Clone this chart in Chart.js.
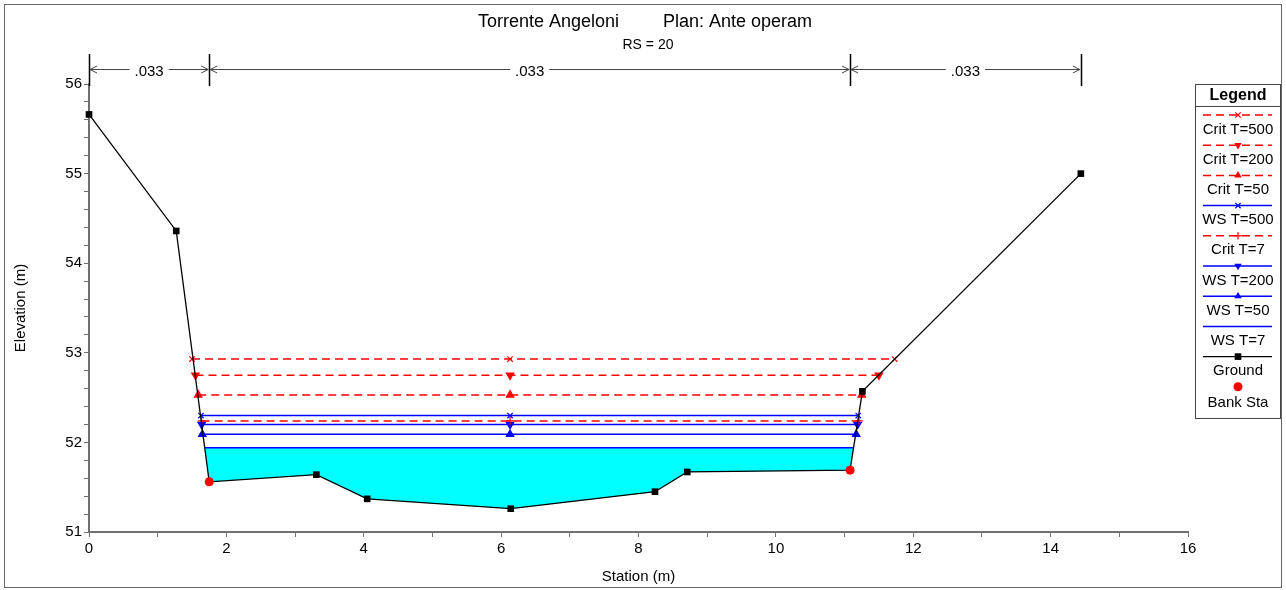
<!DOCTYPE html>
<html><head><meta charset="utf-8">
<script src="https://cdn.jsdelivr.net/npm/chart.js@4.4.1/dist/chart.umd.min.js"></script>
<style>html,body{margin:0;padding:0;background:#fff;}#wrap{width:1286px;height:590px;position:relative;}</style>
</head><body><div id="wrap"><canvas id="c"></canvas></div>
<script>
// ---- data ----
const groundX = [0, 1.27, 1.75, 3.31, 4.05, 6.14, 8.24, 8.71, 11.08, 11.26, 14.44];
const groundY = [55.66, 54.36, 51.56, 51.64, 51.37, 51.26, 51.45, 51.67, 51.69, 52.57, 55.00];
const bankX = [1.75, 11.08];
const bankY = [51.56, 51.69];
const profileNames = ['Crit T=500', 'Crit T=200', 'Crit T=50', 'WS T=500', 'Crit T=7', 'WS T=200', 'WS T=50', 'WS T=7'];
const profileElev = [52.93, 52.75, 52.53, 52.30, 52.24, 52.20, 52.09, 51.94];
const profileLeftX = [1.50, 1.55, 1.59, 1.63, 1.64, 1.64, 1.65, 1.69];
const profileMidX = [6.13, 6.13, 6.13, 6.13, 6.13, 6.13, 6.13, 6.13];
const profileRightX = [11.73, 11.50, 11.25, 11.20, 11.21, 11.19, 11.17, 11.13];
const nBreaksX = [0, 1.75, 11.08, 14.44];
const nValues = ['.033', '.033', '.033'];
const titleMain = ['Torrente Angeloni', 'Plan: Ante operam'];
const titleSub = 'RS = 20';
const legendLabels = ['Crit T=500', 'Crit T=200', 'Crit T=50', 'WS T=500', 'Crit T=7', 'WS T=200', 'WS T=50', 'WS T=7', 'Ground', 'Bank Sta'];

// ---- styles ----
const RED = 'rgb(255,0,0)', BLUE = 'rgb(0,0,255)';
const profileStyles = [
  {color: RED, dash: [8, 5], marker: 'crossRot', rot: 0},
  {color: RED, dash: [8, 5], marker: 'triangle', rot: 180},
  {color: RED, dash: [8, 5], marker: 'triangle', rot: 0},
  {color: BLUE, dash: [], marker: 'crossRot', rot: 0},
  {color: RED, dash: [8, 5], marker: 'cross', rot: 0},
  {color: BLUE, dash: [], marker: 'triangle', rot: 180},
  {color: BLUE, dash: [], marker: 'triangle', rot: 0},
  {color: BLUE, dash: [], marker: null, rot: 0}
];
const FONT = '"Liberation Sans", Arial, Helvetica, sans-serif';

const datasets = [];
// bank stations
datasets.push({label: 'Bank Sta', data: bankX.map((x, i) => ({x, y: bankY[i]})), showLine: false, clip: false,
  pointStyle: 'circle', pointRadius: 4.5, backgroundColor: RED, borderColor: RED, borderWidth: 0, order: 0});
// ground
datasets.push({label: 'Ground', data: groundX.map((x, i) => ({x, y: groundY[i]})), showLine: true, clip: false,
  borderColor: '#000', borderWidth: 1.3, pointStyle: 'rect', pointRadius: 4.7, backgroundColor: '#000',
  pointBorderWidth: 0, order: 1, fill: false});
// water surface profiles
profileNames.forEach((name, i) => {
  const st = profileStyles[i];
  datasets.push({label: name,
    data: [{x: profileLeftX[i], y: profileElev[i]}, {x: profileMidX[i], y: profileElev[i]}, {x: profileRightX[i], y: profileElev[i]}],
    showLine: true, clip: false, borderColor: st.color, borderWidth: 1.5, borderDash: st.dash, fill: false,
    pointStyle: st.marker || 'circle', pointRadius: st.marker ? (st.marker === 'triangle' ? 4.3 : 3.8) : 0,
    pointRotation: st.rot, backgroundColor: st.color, pointBorderColor: st.color, pointBorderWidth: 1.2,
    order: 2 + i});
});
// water fill (lowest profile down to ground)
const wIdx = profileNames.length - 1;
const fillPts = [{x: profileLeftX[wIdx], y: profileElev[wIdx]}, {x: profileRightX[wIdx], y: profileElev[wIdx]}];
for (let k = groundX.length - 1; k >= 0; k--) {
  if (groundX[k] >= bankX[0] && groundX[k] <= bankX[1]) fillPts.push({x: groundX[k], y: groundY[k]});
}
datasets.push({label: 'fill', data: fillPts, showLine: true, borderWidth: 0, borderColor: 'rgba(0,0,0,0)',
  pointRadius: 0, fill: 'shape', backgroundColor: 'rgb(0,255,255)', order: 30});

function drawMarker(ctx, style, x, y, r, rot, color) {
  ctx.save();
  ctx.translate(x, y);
  ctx.rotate((rot || 0) * Math.PI / 180);
  ctx.fillStyle = color; ctx.strokeStyle = color; ctx.lineWidth = 1.2; ctx.setLineDash([]);
  ctx.beginPath();
  if (style === 'circle') { ctx.arc(0, 0, r, 0, Math.PI * 2); ctx.fill(); }
  else if (style === 'rect') { const s = r * Math.SQRT1_2; ctx.fillRect(-s, -s, 2 * s, 2 * s); }
  else if (style === 'triangle') {
    ctx.moveTo(0, -r); ctx.lineTo(r * 0.866, r * 0.5); ctx.lineTo(-r * 0.866, r * 0.5); ctx.closePath(); ctx.fill();
  } else if (style === 'crossRot') {
    const s = r * 0.707; ctx.moveTo(-s, -s); ctx.lineTo(s, s); ctx.moveTo(s, -s); ctx.lineTo(-s, s); ctx.stroke();
  } else if (style === 'cross') {
    ctx.moveTo(0, -r); ctx.lineTo(0, r); ctx.moveTo(-r, 0); ctx.lineTo(r, 0); ctx.stroke();
  }
  ctx.restore();
}

const decor = {
  id: 'decor',
  afterDraw(chart) {
    const ctx = chart.ctx;
    const xs = chart.scales.x;
    ctx.save();
    // frame
    ctx.strokeStyle = '#666'; ctx.lineWidth = 1;
    ctx.strokeRect(4.5, 4.5, 1277, 583);
    // title
    ctx.fillStyle = '#000'; ctx.textBaseline = 'alphabetic'; ctx.textAlign = 'left';
    ctx.font = '18px ' + FONT;
    ctx.fillText(titleMain[0], 478, 27);
    ctx.fillText(titleMain[1], 663, 27);
    ctx.font = '14px ' + FONT; ctx.textAlign = 'center';
    ctx.fillText(titleSub, 648, 49);
    // Manning's n
    const yA = 69.5;
    ctx.strokeStyle = '#000'; ctx.lineWidth = 1.5;
    nBreaksX.forEach(b => {
      const px = Math.round(xs.getPixelForValue(b)) + 0.5;
      ctx.beginPath(); ctx.moveTo(px, 54); ctx.lineTo(px, 86); ctx.stroke();
    });
    ctx.font = '15px ' + FONT; ctx.textBaseline = 'middle';
    for (let i = 0; i < nValues.length; i++) {
      const x1 = xs.getPixelForValue(nBreaksX[i]) + 1, x2 = xs.getPixelForValue(nBreaksX[i + 1]) - 1;
      const cx = (x1 + x2) / 2;
      const tw = ctx.measureText(nValues[i]).width;
      ctx.strokeStyle = '#444'; ctx.lineWidth = 1;
      ctx.beginPath();
      ctx.moveTo(x1, yA); ctx.lineTo(cx - tw / 2 - 5, yA);
      ctx.moveTo(cx + tw / 2 + 5, yA); ctx.lineTo(x2, yA);
      ctx.moveTo(x1 + 7, yA - 3.5); ctx.lineTo(x1, yA); ctx.lineTo(x1 + 7, yA + 3.5);
      ctx.moveTo(x2 - 7, yA - 3.5); ctx.lineTo(x2, yA); ctx.lineTo(x2 - 7, yA + 3.5);
      ctx.stroke();
      ctx.fillStyle = '#000';
      ctx.fillText(nValues[i], cx, yA + 2);
    }
    // legend
    const L = 1195.5, T = 84.5, W = 85, H = 334;
    ctx.strokeStyle = '#444'; ctx.lineWidth = 1;
    ctx.strokeRect(L, T, W, H);
    ctx.beginPath(); ctx.moveTo(L, 106.5); ctx.lineTo(L + W, 106.5); ctx.stroke();
    ctx.fillStyle = '#000'; ctx.font = 'bold 16px ' + FONT; ctx.textAlign = 'center'; ctx.textBaseline = 'middle';
    ctx.fillText('Legend', L + W / 2, 96);
    const cxL = 1238, xa = 1203, xb = 1272;
    legendLabels.forEach((lab, i) => {
      const yl = 115 + 30.2 * i;
      let color, dash, marker, rot;
      if (i < profileNames.length) {
        const st = profileStyles[i]; color = st.color; dash = st.dash; marker = st.marker; rot = st.rot;
      } else if (lab === 'Ground') { color = '#000'; dash = []; marker = 'rect'; rot = 0; }
      else { color = RED; dash = null; marker = 'circle'; rot = 0; }
      if (dash) {
        ctx.strokeStyle = color; ctx.lineWidth = lab === 'Ground' ? 1.3 : 1.5; ctx.setLineDash(dash);
        ctx.beginPath(); ctx.moveTo(xa, yl); ctx.lineTo(xb, yl); ctx.stroke(); ctx.setLineDash([]);
      }
      if (marker) {
        const r = marker === 'circle' ? 4.5 : marker === 'rect' ? 4.7 : marker === 'triangle' ? 4.3 : 3.8;
        drawMarker(ctx, marker, cxL, yl, r, rot, color);
      }
      ctx.fillStyle = '#000'; ctx.font = '15px ' + FONT;
      ctx.fillText(lab, cxL, yl + (i === 9 ? 16 : 14.5));
    });
    ctx.restore();
  }
};

new Chart(document.getElementById('c'), {
  type: 'scatter',
  data: {datasets},
  options: {
    responsive: true, maintainAspectRatio: false, animation: false, events: [],
    layout: {padding: {left: 0, right: 98, top: 84, bottom: 0}},
    plugins: {legend: {display: false}, tooltip: {enabled: false}, title: {display: false}},
    elements: {line: {tension: 0}},
    scales: {
      x: {
        type: 'linear', min: 0, max: 16,
        afterFit: s => { s.height = 58; },
        ticks: {stepSize: 1, autoSkip: false, maxRotation: 0, color: '#000', padding: 3,
          font: {family: FONT, size: 15},
          callback: v => (Math.abs(v % 2) < 1e-6 ? String(v) : '')},
        grid: {drawOnChartArea: false, drawTicks: true, tickLength: 5, color: '#707070'},
        border: {display: true, color: '#707070', width: 2},
        title: {display: true, text: 'Station (m)', color: '#000', font: {family: FONT, size: 15}, padding: {top: 0, bottom: 4}}
      },
      y: {
        type: 'linear', min: 51, max: 56,
        afterFit: s => { s.width = 89; },
        ticks: {stepSize: 0.2, autoSkip: false, color: '#000', padding: 2,
          font: {family: FONT, size: 15},
          callback: v => (Math.abs(v - Math.round(v)) < 1e-6 ? String(Math.round(v)) : '')},
        grid: {drawOnChartArea: false, drawTicks: true, tickLength: 5, color: '#707070'},
        border: {display: true, color: '#707070', width: 2},
        title: {display: true, text: 'Elevation (m)', color: '#000', font: {family: FONT, size: 15}, padding: {top: 12, bottom: 0}}
      }
    }
  },
  plugins: [decor]
});
</script>
</body></html>
